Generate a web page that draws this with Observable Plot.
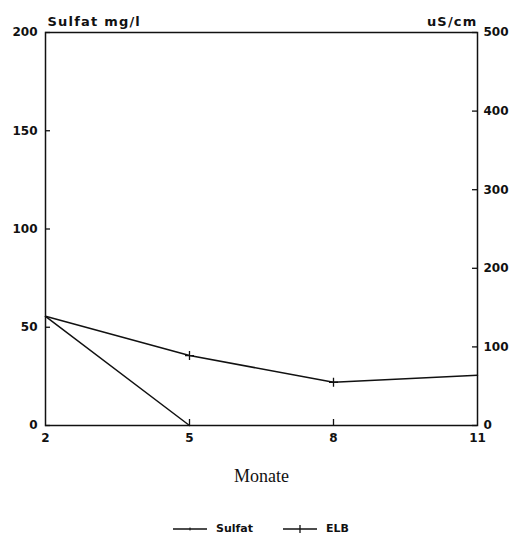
<!DOCTYPE html>
<html><head><meta charset="utf-8">
<script src="https://cdn.jsdelivr.net/npm/d3@7"></script>
<script src="https://cdn.jsdelivr.net/npm/@observablehq/plot@0.6"></script>
<style>
body{margin:0;background:#fff;font-family:"DejaVu Sans",sans-serif;}
#legend{display:flex;justify-content:center;align-items:center;gap:30px;font-size:11px;font-weight:bold;color:#111;margin-top:22px;margin-left:4px;}
#legend span{display:inline-flex;align-items:center;gap:9px;}
.ttl{letter-spacing:1.2px;}
</style></head>
<body><div id="chart"></div>
<div id="legend">
<span><svg width="34" height="8"><line x1="0" y1="4" x2="34" y2="4" stroke="#111" stroke-width="1.3"/><line x1="17" y1="2.5" x2="17" y2="5.5" stroke="#111"/></svg>Sulfat</span>
<span><svg width="34" height="10"><line x1="0" y1="5" x2="34" y2="5" stroke="#111" stroke-width="1.3"/><line x1="17" y1="1" x2="17" y2="9" stroke="#111" stroke-width="1.3"/></svg>ELB</span>
</div>
<script>
const months = [2, 5, 8, 11];
const sulfatMonths = [2, 5];
const sulfat = [55.5, 0];
const elb = [139, 89, 55, 64];
const leftTicks = [0, 50, 100, 150, 200];
const rightTicks = [0, 100, 200, 300, 400, 500];
const ratio = 2.5; // uS/cm per mg/l (500 / 200)

const sulfatData = sulfatMonths.map((m, i) => ({m, v: sulfat[i]}));
const elbData = months.map((m, i) => ({m, v: elb[i] / ratio}));

const font = "DejaVu Sans";
const chart = Plot.plot({
  width: 518, height: 500,
  marginTop: 32, marginBottom: 75, marginLeft: 45, marginRight: 41,
  style: {fontFamily: font, fontSize: "12px", fontWeight: "bold", color: "#111", background: "#fff"},
  x: {domain: [2, 11]},
  y: {domain: [0, 200]},
  marks: [
    Plot.frame({stroke: "#111", strokeWidth: 1.5}),
    Plot.axisY(leftTicks, {anchor: "left", tickSize: 0, tickPadding: 8, label: null, fontSize: 12}),
    Plot.axisY(rightTicks.map(d => d / ratio), {anchor: "right", tickSize: 0, tickPadding: 6, label: null, tickFormat: d => Math.round(d * ratio), fontSize: 12}),
    Plot.axisX(months, {anchor: "bottom", tickSize: 0, tickPadding: 8, label: null, fontSize: 12}),
    Plot.tickY(leftTicks, {y: d => d, insetRight: 427, stroke: "#111", strokeWidth: 1.3}),
    Plot.tickY(rightTicks, {y: d => d / ratio, insetLeft: 427, stroke: "#111", strokeWidth: 1.3}),
    Plot.tickX(months.slice(1, 3), {x: d => d, insetTop: 387, stroke: "#111", strokeWidth: 1.3}),
    Plot.line(sulfatData, {x: "m", y: "v", stroke: "#111", strokeWidth: 1.5}),
    Plot.line(elbData, {x: "m", y: "v", stroke: "#111", strokeWidth: 1.5}),
    Plot.dot(elbData.slice(1, 3), {x: "m", y: "v", symbol: "plus", r: 3, stroke: "#111", strokeWidth: 1.3}),
    Plot.text(["Sulfat mg/l"], {frameAnchor: "top-left", dx: 2, dy: -16, textAnchor: "start", fontSize: 13, className: "ttl"}),
    Plot.text(["uS/cm"], {frameAnchor: "top-right", dx: 0, dy: -16, textAnchor: "end", fontSize: 13, className: "ttl"}),
    Plot.text(["Monate"], {frameAnchor: "bottom", dy: 56, fontSize: 18, fontWeight: "normal", fontFamily: "Liberation Serif"})
  ]
});
document.getElementById("chart").appendChild(chart);
</script>
</body></html>
